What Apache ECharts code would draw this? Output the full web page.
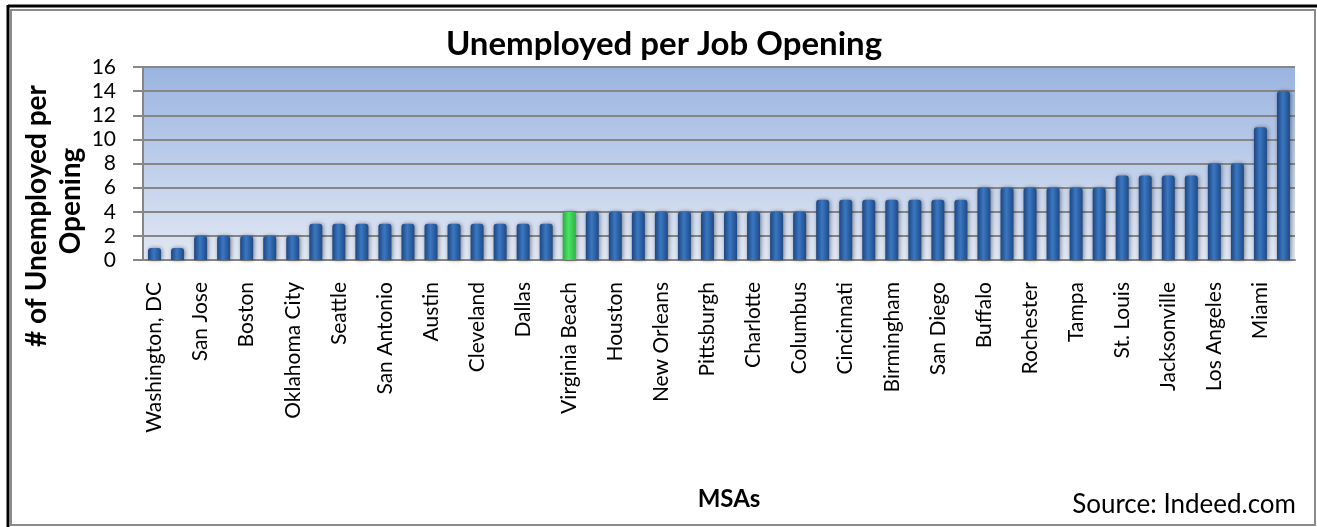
<!DOCTYPE html>
<html>
<head>
<meta charset="utf-8">
<script src="https://cdn.jsdelivr.net/npm/echarts@6/dist/echarts.min.js"></script>
<style>
  html, body { margin: 0; padding: 0; background: #fff; }
  #chart { width: 1317px; height: 527px; }
</style>
</head>
<body>
<div id="chart"></div>
<script>
// ---- Data ----
// 50 MSAs; only every other one is labelled in the reference, the unlabelled ones are left blank.
const categories = [
  'Washington, DC', '', 'San Jose', '', 'Boston', '', 'Oklahoma City', '', 'Seattle', '',
  'San Antonio', '', 'Austin', '', 'Cleveland', '', 'Dallas', '', 'Virginia Beach', '',
  'Houston', '', 'New Orleans', '', 'Pittsburgh', '', 'Charlotte', '', 'Columbus', '',
  'Cincinnati', '', 'Birmingham', '', 'San Diego', '', 'Buffalo', '', 'Rochester', '',
  'Tampa', '', 'St. Louis', '', 'Jacksonville', '', 'Los Angeles', '', 'Miami', ''
];
const unemployedPerOpening = [
  1, 1, 2, 2, 2, 2, 2, 3, 3, 3,
  3, 3, 3, 3, 3, 3, 3, 3, 4, 4,
  4, 4, 4, 4, 4, 4, 4, 4, 4, 5,
  5, 5, 5, 5, 5, 5, 6, 6, 6, 6,
  6, 6, 7, 7, 7, 7, 8, 8, 11, 14
];
const highlightedCategory = 'Virginia Beach';
const yTicks = { min: 0, max: 16, interval: 2 };
const chartTitle = 'Unemployed per Job Opening';
const yTitleLines = ['# of Unemployed per', 'Opening'];
const xTitle = 'MSAs';
const sourceNote = 'Source: Indeed.com';

const FONT = 'Lato, "Open Sans", sans-serif';

const blueBar = new echarts.graphic.LinearGradient(0, 0, 1, 0, [
  { offset: 0, color: '#1d4680' },
  { offset: 0.45, color: '#3a77c2' },
  { offset: 1, color: '#1f4a86' }
]);
const greenBar = new echarts.graphic.LinearGradient(0, 0, 1, 0, [
  { offset: 0, color: '#22b23a' },
  { offset: 0.45, color: '#4fe06a' },
  { offset: 1, color: '#25b93e' }
]);

const seriesData = unemployedPerOpening.map((v, i) => {
  const item = { value: v };
  if (categories[i] === highlightedCategory) {
    item.itemStyle = { color: greenBar };
  }
  return item;
});

const chart = echarts.init(document.getElementById('chart'), null, { renderer: 'canvas' });

chart.setOption({
  animation: false,
  backgroundColor: '#ffffff',
  grid: {
    left: 143, right: 22, top: 67, bottom: 267,
    show: true,
    borderWidth: 0,
    backgroundColor: new echarts.graphic.LinearGradient(0, 0, 0, 1, [
      { offset: 0, color: '#9ab4e0' },
      { offset: 1, color: '#e2e8f4' }
    ])
  },
  xAxis: {
    type: 'category',
    data: categories,
    boundaryGap: true,
    axisLine: { show: true, lineStyle: { color: '#868686', width: 2 } },
    axisTick: { show: false },
    axisLabel: {
      interval: 0,
      rotate: 90,
      margin: 22,
      color: '#000',
      fontFamily: FONT,
      fontSize: 21
    }
  },
  yAxis: {
    type: 'value',
    min: yTicks.min,
    max: yTicks.max,
    interval: yTicks.interval,
    axisLine: { show: true, lineStyle: { color: '#868686', width: 2 } },
    axisTick: { show: true, length: 10, lineStyle: { color: '#868686', width: 2 } },
    axisLabel: {
      margin: 27,
      color: '#000',
      fontFamily: FONT,
      fontSize: 21
    },
    splitLine: { show: true, lineStyle: { color: '#868686', width: 2 } }
  },
  series: [{
    type: 'bar',
    data: seriesData,
    barWidth: 13,
    itemStyle: {
      color: blueBar,
      borderRadius: [3, 3, 0, 0],
      shadowBlur: 4,
      shadowColor: 'rgba(0,0,0,0.45)',
      shadowOffsetX: 1,
      shadowOffsetY: 0
    }
  }],
  graphic: [
    // outer frame
    { type: 'line', shape: { x1: 8, y1: 6, x2: 1317, y2: 6 }, style: { stroke: '#000', lineWidth: 3 }, z: 100 },
    { type: 'line', shape: { x1: 8, y1: 5, x2: 8, y2: 527 }, style: { stroke: '#000', lineWidth: 3 }, z: 100 },
    { type: 'rect', shape: { x: 11, y: 10, width: 1304, height: 515 }, style: { fill: 'none', stroke: '#8a8a8a', lineWidth: 2 }, z: 100 },
    // title
    { type: 'text', x: 664, y: 44, style: { text: chartTitle, font: 'bold 33px ' + FONT, fill: '#000', textAlign: 'center', textVerticalAlign: 'middle' }, z: 100 },
    // y-axis title
    { type: 'text', x: 37, y: 216, rotation: Math.PI / 2, style: { text: yTitleLines[0], font: 'bold 28px ' + FONT, fill: '#000', textAlign: 'center', textVerticalAlign: 'middle' }, z: 100 },
    { type: 'text', x: 71, y: 201, rotation: Math.PI / 2, style: { text: yTitleLines[1], font: 'bold 28px ' + FONT, fill: '#000', textAlign: 'center', textVerticalAlign: 'middle' }, z: 100 },
    // x-axis title
    { type: 'text', x: 729, y: 499, style: { text: xTitle, font: 'bold 24px ' + FONT, fill: '#000', textAlign: 'center', textVerticalAlign: 'middle' }, z: 100 },
    // source
    { type: 'text', x: 1296, y: 505, style: { text: sourceNote, font: '26px ' + FONT, fill: '#000', textAlign: 'right', textVerticalAlign: 'middle' }, z: 100 }
  ]
});
</script>
</body>
</html>
